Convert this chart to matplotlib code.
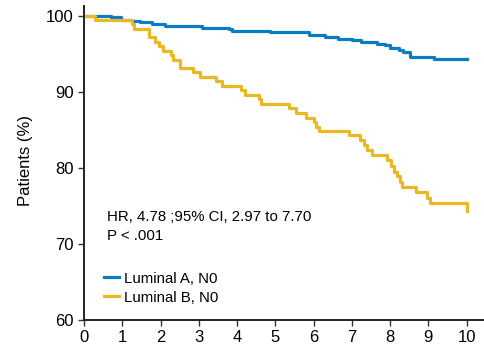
import matplotlib
matplotlib.use('Agg')
import matplotlib.pyplot as plt

plt.rcParams['font.family'] = ['Liberation Sans', 'DejaVu Sans']

# survival curves (years, % patients)
lum_a_t = [0, 0.71, 0.96, 1.25, 1.47, 1.77, 2.12, 3.08, 3.78, 3.87, 4.87, 5.87, 6.31,
           6.64, 7.01, 7.24, 7.66, 7.86, 8.01, 8.23, 8.34, 8.53, 9.14, 10.0]
lum_a_v = [100, 99.8, 99.45, 99.3, 99.15, 98.9, 98.65, 98.4, 98.2, 98.0, 97.9, 97.45, 97.15,
           96.95, 96.75, 96.55, 96.35, 96.1, 95.7, 95.45, 95.2, 94.6, 94.35, 94.35]

lum_b_t = [0, 0.29, 1.25, 1.30, 1.70, 1.86, 1.95, 2.06, 2.27, 2.32, 2.51, 2.84, 3.04, 3.46,
           3.60, 4.10, 4.21, 4.58, 4.63, 5.35, 5.54, 5.81, 6.00, 6.06, 6.14, 6.92, 7.22, 7.31,
           7.40, 7.53, 7.92, 8.03, 8.10, 8.19, 8.27, 8.32, 8.69, 8.97, 9.04, 10.0]
lum_b_v = [100, 99.45, 98.9, 98.2, 97.15, 96.6, 96.0, 95.4, 94.8, 94.25, 93.1, 92.6, 91.9, 91.4,
           90.8, 90.2, 89.6, 89.0, 88.45, 87.9, 87.2, 86.6, 86.0, 85.4, 84.8, 84.3, 83.6, 83.0,
           82.3, 81.7, 81.0, 80.3, 79.5, 78.9, 78.2, 77.5, 76.8, 76.1, 75.4, 74.3]

x_ticks = list(range(0, 11))
y_ticks = [60, 70, 80, 90, 100]

fig = plt.figure(figsize=(4.84, 3.47), dpi=100)
ax = fig.add_axes([0.1736, 0.078, 0.83, 0.905])

ax.step(lum_a_t, lum_a_v, where='post', color='#0a7cc4', lw=2.3, label='Luminal A, N0')
ax.step(lum_b_t, lum_b_v, where='post', color='#e9b823', lw=2.3, label='Luminal B, N0')

ax.set_xlim(0, 10.5)
ax.set_ylim(60, 101.3)
ax.set_xticks(x_ticks)
ax.set_yticks(y_ticks)
ax.tick_params(labelsize=12, length=4.5, width=1, color='#333333', direction='out', pad=3)
for s in ['top', 'right']:
    ax.spines[s].set_visible(False)
for s in ['left', 'bottom']:
    ax.spines[s].set_linewidth(1.4)
    ax.spines[s].set_color('#222222')

ax.set_ylabel('Patients (%)', fontsize=12)
ax.yaxis.set_label_coords(-0.127, 0.508)

ax.text(0.6, 73.6, 'HR, 4.78 ;95% CI, 2.97 to 7.70', fontsize=10.8, va='center')
ax.text(0.6, 71.0, 'P < .001', fontsize=10.8, va='center')

ax.legend(loc='lower left', bbox_to_anchor=(0.05, 0.049), frameon=False, fontsize=10.8,
          handlelength=1.0, handletextpad=0.35, borderpad=0, borderaxespad=0,
          labelspacing=0.33)

fig.savefig('out.png', dpi=100)
